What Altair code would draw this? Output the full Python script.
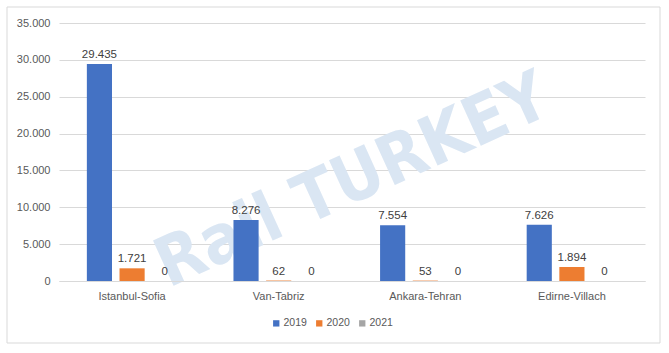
import altair as alt
import pandas as pd

routes = ["Istanbul-Sofia", "Van-Tabriz", "Ankara-Tehran", "Edirne-Villach"]
years = ["2019", "2020", "2021"]
v2019 = [29435, 8276, 7554, 7626]
v2020 = [1721, 62, 53, 1894]
v2021 = [0, 0, 0, 0]
y_ticks = [0, 5000, 10000, 15000, 20000, 25000, 30000, 35000]
colors = ["#4472C4", "#ED7D31", "#A5A5A5"]

rows = []
for i, r in enumerate(routes):
    for y, vals in zip(years, [v2019, v2020, v2021]):
        rows.append({"route": r, "year": y, "value": vals[i]})
df = pd.DataFrame(rows)

FONT = "Liberation Sans"
W, H = 586, 258

base = alt.Chart(df).transform_calculate(
    label="replace(format(datum.value, ','), ',', '.')"
)

x_enc = alt.X("route:N", sort=routes, title=None,
              scale=alt.Scale(paddingInner=0.383, paddingOuter=0.19),
              axis=alt.Axis(labelAngle=0, ticks=False, domainColor="#d9d9d9",
                            labelColor="#595959", labelFontSize=11, labelFont=FONT,
                            labelPadding=9, grid=False, zindex=1))
xo_enc = alt.XOffset("year:N", sort=years,
                     scale=alt.Scale(paddingInner=0.23, paddingOuter=0))
y_enc = alt.Y("value:Q", title=None,
              scale=alt.Scale(domain=[0, 35000], nice=False),
              axis=alt.Axis(values=y_ticks, ticks=False, domain=False,
                            gridColor="#d9d9d9", labelColor="#595959",
                            labelFontSize=11, labelFont=FONT, labelPadding=9,
                            labelOverlap=False,
                            labelExpr="replace(format(datum.value, ','), ',', '.')"))
color_enc = alt.Color("year:N", sort=years,
                      scale=alt.Scale(domain=years, range=colors),
                      legend=alt.Legend(title=None, orient="none", direction="horizontal",
                                        legendX=212, legendY=295, symbolType="square",
                                        symbolSize=40, symbolStrokeWidth=0,
                                        labelFont=FONT, labelFontSize=10.5,
                                        labelColor="#595959", columnPadding=7,
                                        labelOffset=2))

border = alt.Chart(pd.DataFrame({"a": [0]})).mark_rect(
    fill=None, stroke="#d9d9d9", strokeWidth=1
).encode(x=alt.value(-52), x2=alt.value(601), y=alt.value(-16), y2=alt.value(320))

watermark = alt.Chart(pd.DataFrame({"t": ["Rail TURKEY"]})).mark_text(
    font="DejaVu Sans Condensed", fontWeight="bold", fontSize=68,
    angle=335.5, color="#dae6f3", align="center", baseline="middle"
).encode(text="t:N", x=alt.value(294), y=alt.value(159))

bars = base.mark_bar().encode(x=x_enc, xOffset=xo_enc, y=y_enc, color=color_enc)

labels = base.mark_text(dy=-9, font=FONT, fontSize=11.5, color="#404040").encode(
    x=x_enc, xOffset=xo_enc, y=y_enc, text="label:N"
)

chart = alt.layer(watermark, bars, labels, border).properties(
    width=W, height=H,
    autosize=alt.AutoSizeParams(type="none"),
    padding={"left": 59, "top": 23, "right": 24, "bottom": 72},
    background="white",
).configure_view(stroke=None)

chart.save("out.html", embed_options={"renderer": "svg", "actions": False})
